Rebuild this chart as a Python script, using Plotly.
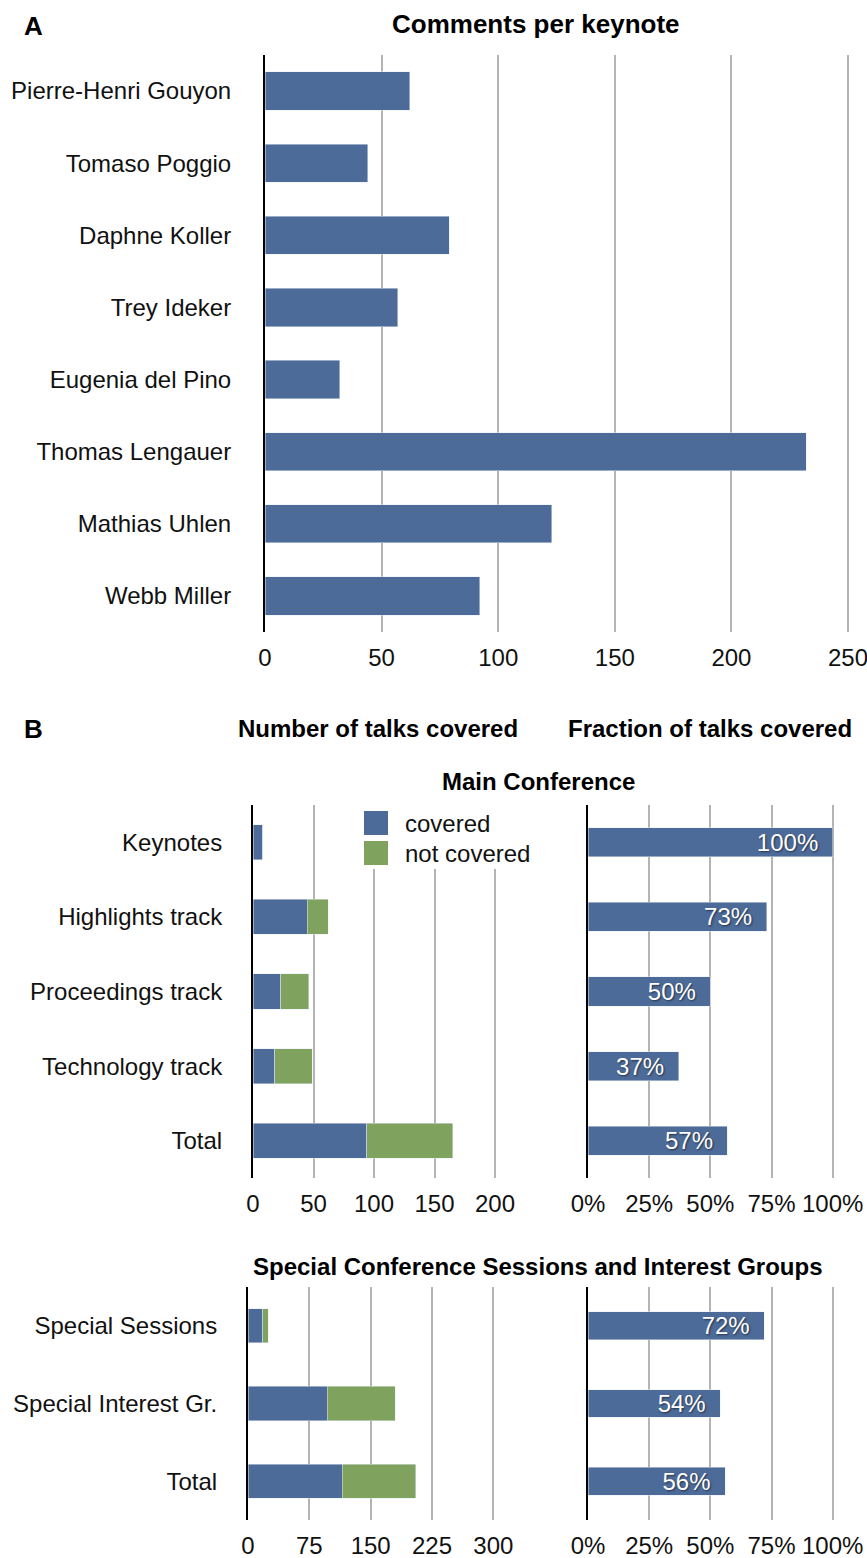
import plotly.graph_objects as go

# ---------------- data ----------------
speakers = ["Pierre-Henri Gouyon", "Tomaso Poggio", "Daphne Koller", "Trey Ideker",
            "Eugenia del Pino", "Thomas Lengauer", "Mathias Uhlen", "Webb Miller"]
comments = [62, 44, 79, 57, 32, 232, 123, 92]

main_cats = ["Keynotes", "Highlights track", "Proceedings track", "Technology track", "Total"]
main_covered = [8, 45, 23, 18, 94]
main_not_covered = [0, 17, 23, 31, 71]
main_pct = [100, 73, 50, 37, 57]

special_cats = ["Special Sessions", "Special Interest Gr.", "Total"]
special_covered = [18, 97, 115]
special_not_covered = [7, 83, 90]
special_pct = [72, 54, 56]

ticks_a = [0, 50, 100, 150, 200, 250]
ticks_main = [0, 50, 100, 150, 200]
ticks_special = [0, 75, 150, 225, 300]
ticks_pct = [0, 25, 50, 75, 100]
ticks_pct_text = ["0%", "25%", "50%", "75%", "100%"]

# ---------------- style ----------------
W, H = 867, 1558
BLUE = "#4d6b99"
GREEN = "#7fa35e"
GRID = "#b4b4b4"
FONT = "Liberation Sans, Arial, Helvetica, sans-serif"
FS = 24


def px(x):
    return x / W


def py(y):
    return 1 - y / H


fig = go.Figure()

pct_font = dict(color="white", size=FS, family=FONT, shadow="1px 1px 2px rgba(0,0,0,0.55)")

# Panel A
fig.add_trace(go.Bar(y=speakers, x=comments, orientation="h", marker_color=BLUE,
                     width=0.53, xaxis="x", yaxis="y", name="comments"))
# Panel B main, counts
fig.add_trace(go.Bar(y=main_cats, x=main_covered, orientation="h", marker_color=BLUE,
                     width=0.47, xaxis="x2", yaxis="y2", name="covered"))
fig.add_trace(go.Bar(y=main_cats, x=main_not_covered, orientation="h", marker_color=GREEN,
                     width=0.47, xaxis="x2", yaxis="y2", name="not covered"))
# Panel B main, fraction
fig.add_trace(go.Bar(y=main_cats, x=main_pct, orientation="h", marker_color=BLUE,
                     width=0.39, xaxis="x3", yaxis="y3", name="fraction",
                     text=[f"{v}%\u00a0\u2009" for v in main_pct],
                     textposition="inside", insidetextanchor="end", constraintext="none",
                     textfont=pct_font))
# Panel B special, counts
fig.add_trace(go.Bar(y=special_cats, x=special_covered, orientation="h", marker_color=BLUE,
                     width=0.44, xaxis="x4", yaxis="y4", name="covered"))
fig.add_trace(go.Bar(y=special_cats, x=special_not_covered, orientation="h", marker_color=GREEN,
                     width=0.44, xaxis="x4", yaxis="y4", name="not covered"))
# Panel B special, fraction
fig.add_trace(go.Bar(y=special_cats, x=special_pct, orientation="h", marker_color=BLUE,
                     width=0.36, xaxis="x5", yaxis="y5", name="fraction",
                     text=[f"{v}%\u00a0\u2009" for v in special_pct],
                     textposition="inside", insidetextanchor="end", constraintext="none",
                     textfont=pct_font))


def xaxis(x0, x_at_max, vmax, ticks, ticktext=None):
    scale = (x_at_max - x0) / vmax
    x1 = x_at_max + 3
    d = dict(domain=[px(x0), px(x1)], range=[0, (x1 - x0) / scale],
             tickmode="array", tickvals=ticks, showgrid=True, gridcolor=GRID,
             gridwidth=2, zeroline=False, showline=False, ticks="",
             tickfont=dict(size=FS, color="#111", family=FONT),
             ticklabelstandoff=9, ticklabeloverflow="allow",
             automargin=False, fixedrange=True)
    if ticktext is not None:
        d["ticktext"] = ticktext
    return d


def yaxis(y_top, y_bot, anchor, standoff=24):
    return dict(domain=[py(y_bot), py(y_top)], autorange="reversed", anchor=anchor,
                showline=True, linecolor="black", linewidth=2, showgrid=False,
                zeroline=False, ticks="", tickfont=dict(size=FS, color="#111", family=FONT),
                ticklabelstandoff=standoff, ticklabeloverflow="allow",
                automargin=False, fixedrange=True)


fig.update_layout(
    width=W, height=H, margin=dict(l=0, r=0, t=0, b=0, autoexpand=False),
    paper_bgcolor="white", plot_bgcolor="white", showlegend=False,
    barmode="stack", font=dict(family=FONT, size=FS, color="#111"),
    xaxis=dict(**xaxis(265, 848, 250, ticks_a), anchor="y"),
    yaxis=yaxis(55, 632, "x", standoff=27),
    xaxis2=dict(**xaxis(253, 495, 200, ticks_main), anchor="y2"),
    yaxis2=yaxis(805, 1178, "x2"),
    xaxis3=dict(**xaxis(588, 832.7, 100, ticks_pct, ticks_pct_text), anchor="y3"),
    yaxis3=dict(**yaxis(805, 1178, "x3"), showticklabels=False),
    xaxis4=dict(**xaxis(248, 493.3, 300, ticks_special), anchor="y4"),
    yaxis4=yaxis(1287, 1520, "x4"),
    xaxis5=dict(**xaxis(588, 832.7, 100, ticks_pct, ticks_pct_text), anchor="y5"),
    yaxis5=dict(**yaxis(1287, 1520, "x5"), showticklabels=False),
)


# titles / panel letters
def label(text, x, y, size=FS, bold=True, xanchor="center"):
    fig.add_annotation(text=f"<b>{text}</b>" if bold else text, x=px(x), y=py(y),
                       xref="paper", yref="paper", xanchor=xanchor, yanchor="middle",
                       showarrow=False, font=dict(size=size, color="black", family=FONT))


label("A", 33, 26, size=26)
label("Comments per keynote", 536, 24, size=26)
label("B", 33, 729, size=26)
label("Number of talks covered", 378, 729)
label("Fraction of talks covered", 710, 729)
label("Main Conference", 538, 782)
label("Special Conference Sessions and Interest Groups", 538, 1266)

# legend (white box over the gridlines, two swatches)
fig.add_shape(type="rect", xref="paper", yref="paper", x0=px(356), x1=px(545),
              y0=py(869), y1=py(801), fillcolor="white", line_width=0, layer="above")
for i, (name, col) in enumerate([("covered", BLUE), ("not covered", GREEN)]):
    yc = 823 + 30 * i
    fig.add_shape(type="rect", xref="paper", yref="paper", x0=px(364), x1=px(388),
                  y0=py(yc + 12), y1=py(yc - 12), fillcolor=col, line_width=0, layer="above")
    fig.add_annotation(text=name, x=px(403), y=py(yc), xref="paper", yref="paper",
                       xanchor="left", yanchor="middle", showarrow=False,
                       font=dict(size=FS, color="#111", family=FONT))

fig.write_html("out.html", config={"displayModeBar": False},
               post_script="document.body.style.margin='0';")
